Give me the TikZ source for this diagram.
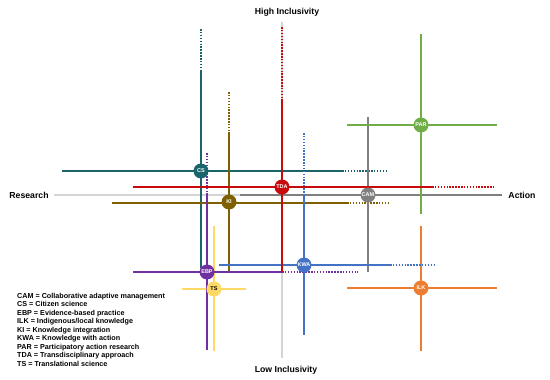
\documentclass[tikz,border=0pt]{standalone}
\usepackage{fontspec}
\setmainfont{Liberation Sans}
\usetikzlibrary{positioning}
\definecolor{axgray}{RGB}{212,212,212}
\definecolor{cscol}{RGB}{26,100,108}
\definecolor{tdacol}{RGB}{200,10,10}
\definecolor{kicol}{RGB}{127,96,0}
\definecolor{camcol}{RGB}{128,128,128}
\definecolor{parcol}{RGB}{112,173,71}
\definecolor{ilkcol}{RGB}{237,125,49}
\definecolor{kwacol}{RGB}{68,114,196}
\definecolor{ebpcol}{RGB}{112,48,160}
\definecolor{tscol}{RGB}{255,217,102}
\tikzset{
  mnode/.style={
    circle, inner sep=0pt, minimum size=15pt,
    font=\fontsize{5.5}{6}\selectfont\bfseries, text=white
  },
  sline/.style={line width=1.7pt},
  dline/.style={line width=2.1pt, dash pattern=on 1.5pt off 1.4pt},
  axline/.style={draw=axgray, line width=1.6pt},
  axlbl/.style={font=\fontsize{8.7}{10}\selectfont\bfseries},
  legend/.style={font=\fontsize{7.2}{8.5}\selectfont\bfseries, align=left, inner sep=0pt}
}
\begin{document}
\begin{tikzpicture}[x=1pt, y=-1pt]
  \useasboundingbox (0,0) rectangle (550,380);
  % axes
  \node[axlbl] (res) at (29,195) {Research};
  \node[axlbl] (act) at (522,195) {Action};
  \node[axlbl] (high) at (287,12) {High Inclusivity};
  \node[axlbl] (low) at (286,370) {Low Inclusivity};
  \draw[axline] (54,195) -- (502,195);
  \draw[axline] (282,22) -- (282,358);
  % CS
  \draw[sline, cscol] (62,171) -- (342,171);
  \draw[dline, cscol] (342,171) -- (388,171);
  \draw[dline, cscol] (201,29) -- (201,70);
  \draw[sline, cscol] (201,70) -- (201,268);
  % KI
  \draw[sline, kicol] (112,203) -- (347,203);
  \draw[dline, kicol] (347,203) -- (388,203);
  \draw[dline, kicol] (229,92) -- (229,132);
  \draw[sline, kicol] (229,132) -- (229,272);
  % CAM
  \draw[sline, camcol] (240,195) -- (502,195);
  \draw[sline, camcol] (368,117) -- (368,272);
  % PAR
  \draw[sline, parcol] (347,125) -- (497,125);
  \draw[sline, parcol] (421,34) -- (421,214);
  % ILK
  \draw[sline, ilkcol] (347,288) -- (497,288);
  \draw[sline, ilkcol] (421,226) -- (421,351);
  % KWA
  \draw[sline, kwacol] (219,265) -- (390,265);
  \draw[dline, kwacol] (390,265) -- (434,265);
  \draw[dline, kwacol] (304,133) -- (304,195);
  \draw[sline, kwacol] (304,195) -- (304,335);
  % TS
  \draw[sline, tscol] (182,289) -- (246,289);
  \draw[sline, tscol] (214,226) -- (214,351);
  % EBP
  \draw[sline, ebpcol] (133,272) -- (282,272);
  \draw[dline, ebpcol] (282,272) -- (358,272);
  \draw[dline, ebpcol] (207,153) -- (207,193);
  \draw[sline, ebpcol] (207,193) -- (207,350);
  % TDA
  \draw[sline, tdacol] (133,187) -- (432,187);
  \draw[dline, tdacol] (432,187) -- (493,187);
  \draw[dline, tdacol] (282,27) -- (282,99);
  \draw[sline, tdacol] (282,99) -- (282,272);
  % methods
  \node[mnode, fill=cscol] (cs) at (201,171) {CS};
  \node[mnode, fill=tdacol] (tda) at (282,187) {TDA};
  \node[mnode, fill=kicol] (ki) at (229,202) {KI};
  \node[mnode, fill=camcol] (cam) at (368,195) {CAM};
  \node[mnode, fill=parcol] (par) at (421,125) {PAR};
  \node[mnode, fill=ilkcol] (ilk) at (421,288) {ILK};
  \node[mnode, fill=kwacol] (kwa) at (304,265) {KWA};
  \node[mnode, fill=ebpcol] (ebp) at (207,272) {EBP};
  \node[mnode, fill=tscol, text=black] (ts) at (214,289) {TS};
  % key
  \node[legend, anchor=north west] (key) at (17,293)
    {CAM = Collaborative adaptive management\\
     CS = Citizen science\\
     EBP = Evidence-based practice\\
     ILK = Indigenous/local knowledge\\
     KI = Knowledge integration\\
     KWA = Knowledge with action\\
     PAR = Participatory action research\\
     TDA = Transdisciplinary approach\\
     TS = Translational science};
\end{tikzpicture}
\end{document}
